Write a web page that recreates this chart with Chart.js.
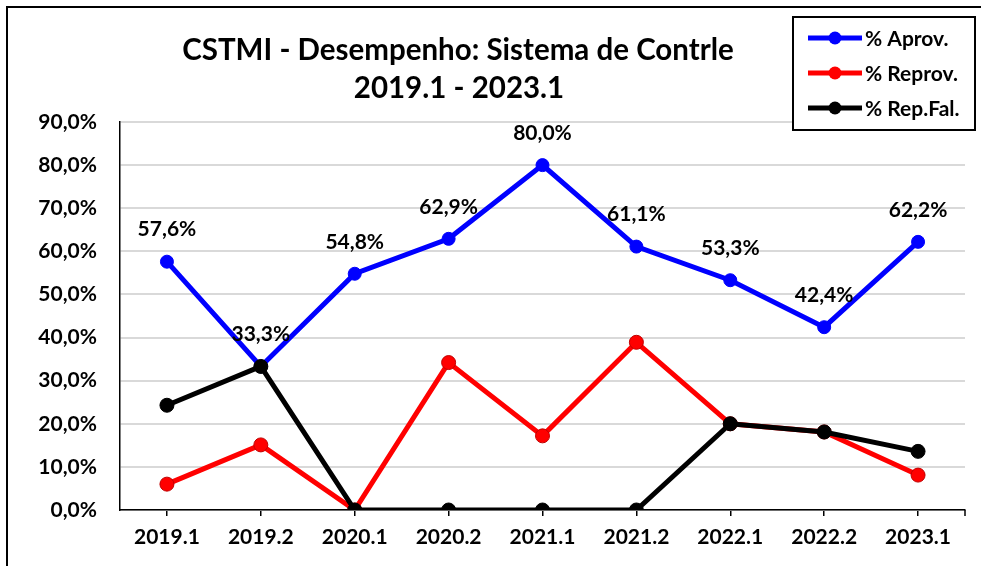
<!DOCTYPE html>
<html lang="pt">
<head>
<meta charset="UTF-8">
<title>CSTMI - Desempenho</title>
<script src="https://cdn.jsdelivr.net/npm/chart.js"></script>
<style>
  html, body { margin: 0; padding: 0; background: #fff; }
  #wrap { width: 981px; height: 566px; }
</style>
</head>
<body>
<div id="wrap"><canvas id="desempenho" width="981" height="566"></canvas></div>
<script>
const semestres = ['2019.1', '2019.2', '2020.1', '2020.2', '2021.1', '2021.2', '2022.1', '2022.2', '2023.1'];
const aprov   = [57.6, 33.3, 54.8, 62.9, 80.0, 61.1, 53.3, 42.4, 62.2];
const reprov  = [6.0, 15.1, 0.0, 34.2, 17.2, 38.9, 20.0, 18.1, 8.1];
const repFal  = [24.3, 33.3, 0.0, 0.0, 0.0, 0.0, 20.0, 18.1, 13.6];
const yTicks  = [0, 10, 20, 30, 40, 50, 60, 70, 80, 90];
const titulo  = ['CSTMI - Desempenho: Sistema de Contrle', '2019.1 - 2023.1'];

const FONT = 'Lato, "Open Sans", sans-serif';
const pct = v => v.toFixed(1).replace('.', ',') + '%';

// moldura + titulo
const moldura = {
  id: 'moldura',
  beforeDraw(chart) {
    const ctx = chart.ctx;
    ctx.save();
    ctx.fillStyle = '#fff';
    ctx.fillRect(0, 0, chart.width, chart.height);
    ctx.strokeStyle = '#000';
    ctx.lineWidth = 2;
    ctx.strokeRect(7, 7, chart.width, chart.height);
    ctx.fillStyle = '#000';
    ctx.font = 'bold 29.5px ' + FONT;
    ctx.textAlign = 'center';
    ctx.textBaseline = 'middle';
    ctx.fillText(titulo[0], 458, 50);
    ctx.fillText(titulo[1], 459, 88);
    ctx.restore();
  },
  afterDraw(chart) {
    // tick final do eixo x
    const ctx = chart.ctx, a = chart.chartArea;
    ctx.save();
    ctx.strokeStyle = '#000';
    ctx.lineWidth = 1.5;
    ctx.beginPath();
    ctx.moveTo(a.right, a.bottom);
    ctx.lineTo(a.right, a.bottom + 6);
    ctx.stroke();
    ctx.restore();
  }
};

// rotulos de valor na serie % Aprov.
const rotulos = {
  id: 'rotulos',
  afterDatasetsDraw(chart) {
    const ctx = chart.ctx;
    const meta = chart.getDatasetMeta(0);
    ctx.save();
    ctx.fillStyle = '#000';
    ctx.font = 'bold 21px ' + FONT;
    ctx.textAlign = 'center';
    ctx.textBaseline = 'middle';
    meta.data.forEach((pt, i) => {
      ctx.fillText(pct(aprov[i]), pt.x, pt.y - 32);
    });
    ctx.restore();
  }
};

// legenda em caixa no canto superior direito
const legendaBox = {
  id: 'legendaBox',
  afterDraw(chart) {
    const ctx = chart.ctx;
    const x0 = 793, y0 = 17, w = 182, h = 113;
    ctx.save();
    ctx.fillStyle = '#fff';
    ctx.fillRect(x0, y0, w, h);
    ctx.strokeStyle = '#000';
    ctx.lineWidth = 2;
    ctx.strokeRect(x0, y0, w, h);
    chart.data.datasets.forEach((ds, i) => {
      const y = y0 + 21 + i * 35;
      ctx.strokeStyle = ds.borderColor;
      ctx.lineWidth = 5;
      ctx.beginPath();
      ctx.moveTo(x0 + 15, y);
      ctx.lineTo(x0 + 69, y);
      ctx.stroke();
      ctx.fillStyle = ds.pointBackgroundColor;
      ctx.beginPath();
      ctx.arc(x0 + 42, y, 6.5, 0, Math.PI * 2);
      ctx.fill();
      ctx.fillStyle = '#000';
      ctx.font = 'bold 21px ' + FONT;
      ctx.textAlign = 'left';
      ctx.textBaseline = 'middle';
      ctx.fillText(ds.label, x0 + 72, y + 1);
    });
    ctx.restore();
  }
};

new Chart(document.getElementById('desempenho'), {
  type: 'line',
  data: {
    labels: semestres,
    datasets: [
      {
        label: '% Aprov.', data: aprov, order: 3,
        borderColor: '#0000ff', backgroundColor: '#0000ff',
        pointBackgroundColor: '#0000ff', pointBorderColor: '#0000ff',
        borderWidth: 5, pointRadius: 6.5, pointBorderWidth: 1
      },
      {
        label: '% Reprov.', data: reprov, order: 2,
        borderColor: '#ff0000', backgroundColor: '#ff0000',
        pointBackgroundColor: '#ff0000', pointBorderColor: '#c00000',
        borderWidth: 5, pointRadius: 7, pointBorderWidth: 1
      },
      {
        label: '% Rep.Fal.', data: repFal, order: 1,
        borderColor: '#000000', backgroundColor: '#000000',
        pointBackgroundColor: '#000000', pointBorderColor: '#000000',
        borderWidth: 5, pointRadius: 7, pointBorderWidth: 1
      }
    ]
  },
  options: {
    responsive: false,
    animation: false,
    layout: { padding: { top: 122, right: 16, left: 0, bottom: 0 } },
    plugins: {
      legend: { display: false },
      tooltip: { enabled: false },
      title: { display: false }
    },
    scales: {
      x: {
        offset: true,
        afterFit: s => { s.height = 56; },
        grid: { display: true, drawOnChartArea: false, offset: false, color: '#000', lineWidth: 1.5, tickLength: 6 },
        border: { color: '#000', width: 1.5 },
        ticks: { color: '#000', font: { family: FONT, size: 21, weight: 'bold' }, padding: 9, maxRotation: 0 }
      },
      y: {
        min: 0, max: 90,
        afterFit: s => { s.width = 120; },
        afterBuildTicks: s => { s.ticks = yTicks.map(v => ({ value: v })); },
        grid: { color: '#d9d9d9', lineWidth: 2, drawTicks: false },
        border: { color: '#000', width: 1.5 },
        ticks: {
          color: '#000', padding: 23,
          font: { family: FONT, size: 21, weight: 'bold' },
          callback: v => pct(v)
        }
      }
    }
  },
  plugins: [moldura, rotulos, legendaBox]
});
</script>
</body>
</html>
